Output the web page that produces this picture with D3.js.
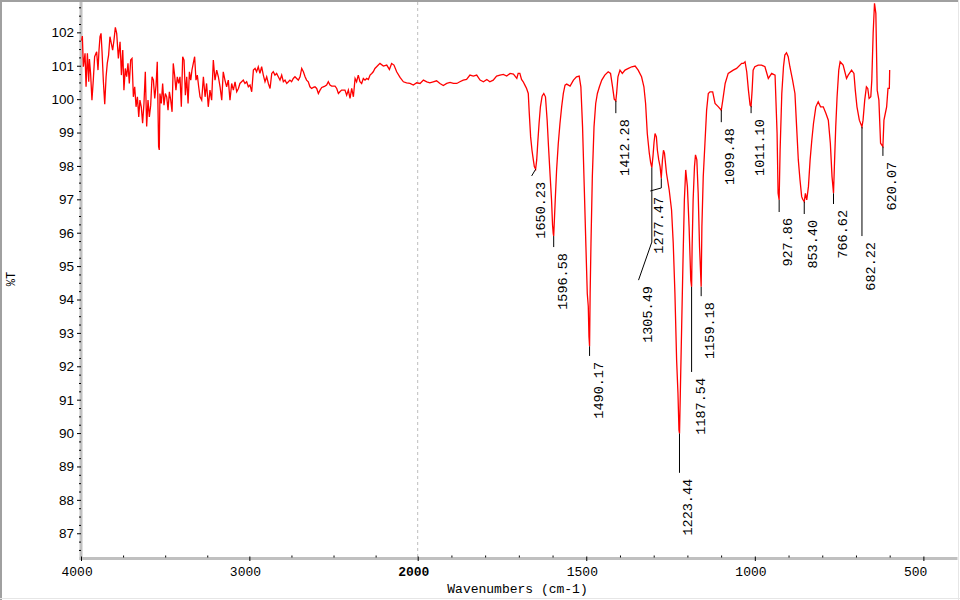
<!DOCTYPE html>
<html><head><meta charset="utf-8">
<script src="https://cdn.jsdelivr.net/npm/d3@7"></script>
<style>body{margin:0;background:#fff}svg{display:block}</style>
</head><body>
<svg id="chart" width="960" height="600"></svg>
<script>
// ---- data ----
const wavenumber = [
3996,3992,3986,3976,3970,3962,3954,3950,3943,3935,3927,3919,3907,3899,3893,3887,3881,3875,3867,3859,3851,3844,3836,3828,3820,3812,3804,3796,3788,3778,3768,3760,3752,3745,3737,3729,3721,3713,3705,3697,3689,3681,3673,3665,3657,3650,3642,3634,3626,3618,3610,3602,3594,3586,3578,3570,3562,3554,3547,3539,3535,3531,3523,3515,3507,3499,3491,3483,3475,3467,3459,3452,3444,3436,3428,3420,3412,3404,3396,3388,3380,3372,3364,3356,3348,3341,3333,3325,3317,3309,3301,3293,
3283,3273,3263,3254,3244,3234,3224,3214,3204,3194,3184,3174,3164,3155,3145,3135,3125,3115,3105,3095,3085,3075,3065,3056,3046,3036,3026,3016,3006,2996,2986,2976,2966,2957,2947,2937,2927,2917,2907,2897,2887,2877,2867,2858,2848,2838,2828,2818,2808,2798,2788,2778,2768,2759,2749,2739,2729,2719,2709,2699,2689,2679,2669,2660,2650,2640,2630,2620,2610,2600,2590,2580,2570,2561,2551,2541,2531,2521,2511,2501,2491,2481,2471,2462,2452,2442,2432,2422,2412,2402,2392,2382,2372,2363,2353,2343,2333,2323,2313,2303,2293,2283,2273,2264,2254,2244,2234,2224,
2204,2184,2168,2155,2141,2125,2105,2085,2066,2046,2026,2006,1993,1983,1973,1964,1954,1944,1934,1924,1914,1904,1894,1884,1875,1865,1855,1845,1835,1825,1815,1805,1795,1786,1776,1766,1756,1746,1736,1726,1716,1706,1702,1697,1692,1687,1682,1677,1672,
1669,1665,1661,1657,1654,1650.2,1647,1644,1640,1636,1631,1626,1621,1616,1612,1607,1603,1600,1598,1596.6,1595,1592,1588,1583,1578,1573,1568,1563,1558,1548,1538,1529,1521,1516,1511,1506,1501,1497,1494,1492,1490.2,1488.5,1486,1482,1477,1472,1467,1461,1454,1445,1435,1428,1422,1417,1412.3,1410,1406,1400,1393,1385,1375,1365,1355,1346,1336,1329,1324,1319,1313,1309,1305.5,1302,1299,1296,1292,1289,1285,1281,1277.5,1274,1271,1268,1262,1254,1247,1242,1237,1232,1228,1225,1223.4,1221,1217,1213,1209,1205,1200,1195,1190,1187.5,1186,1183,1179,1176,1172,1168,1164,1159.2,1157,1153,1148,1143,1138,1133,1125,1118,1108,1099.5,1095,1088,1079,1064,1054,1039,
1034,1029,1024,1019,1014,1011.1,1008,1005,1000,990,980,970,960,950,940,934,931,927.9,925,920,915,911,906,901,896,888,881,876,871,866,861,858,853.4,850,846,841,836,831,826,819,812,805,797,789,782,776,771,766.6,764,760,756,751,747,738,728,723,713,706,702,697,690,682.2,679,674,669,665,661,656,653,649,645,641,637,632,627,620.1,617,613,609,605,601,600
];
const transmittance = [
101.75,101.89,100.97,101.37,100.37,101.37,100.52,101.2,100.77,99.97,100.57,101.27,101.42,100.87,101.47,101.87,101.97,101.42,100.52,99.85,100.67,101.07,101.32,101.87,101.67,101.47,101.77,102.15,101.97,101.22,101.72,100.72,101.47,100.27,100.92,100.67,101.07,100.47,101.17,101.22,100.07,100.37,99.77,100.07,99.47,99.97,99.77,99.28,99.87,100.82,99.18,99.97,99.47,99.82,100.67,100.57,100.02,100.42,101.12,98.58,98.48,100.17,99.87,100.47,99.82,100.17,100.07,99.67,100.22,99.97,99.62,101.07,100.72,100.27,100.67,100.47,100.67,99.77,101.27,101.17,100.12,100.67,99.87,100.82,100.57,100.87,101.07,101.27,100.57,100.72,100.37,100.07,
99.97,100.67,100.07,100.47,99.77,100.27,99.97,101.17,100.57,100.87,100.67,100.37,99.97,100.82,100.57,100.37,100.57,99.97,100.47,100.27,100.52,100.22,100.32,100.47,100.52,100.57,100.47,100.52,100.37,100.42,100.22,100.87,100.92,100.82,100.97,100.77,100.97,100.72,100.52,100.67,100.47,100.32,100.77,100.82,100.72,100.77,100.67,100.57,100.72,100.52,100.57,100.47,100.52,100.57,100.52,100.62,100.67,100.62,100.57,100.67,100.92,100.82,100.67,100.57,100.52,100.37,100.32,100.35,100.37,100.32,100.17,100.27,100.35,100.37,100.39,100.42,100.52,100.42,100.39,100.39,100.39,100.32,100.17,100.22,100.27,100.27,100.27,100.12,100.27,100.02,100.32,100.07,100.62,100.52,100.72,100.52,100.47,100.62,100.57,100.62,100.59,100.72,100.77,100.82,100.92,100.97,101.02,101.07,
100.99,101.02,100.89,101.07,101.02,100.82,100.65,100.52,100.49,100.47,100.42,100.49,100.47,100.57,100.52,100.49,100.52,100.55,100.47,100.41,100.47,100.50,100.47,100.47,100.52,100.57,100.59,100.72,100.69,100.72,100.57,100.52,100.59,100.52,100.57,100.69,100.72,100.74,100.69,100.77,100.75,100.62,100.77,100.77,100.59,100.52,100.42,100.32,100.17,
99.57,98.87,98.47,98.18,97.98,97.9,98.18,98.67,99.27,99.77,100.09,100.17,100.07,99.37,98.58,97.68,96.98,96.23,95.98,95.9,96.28,96.98,97.88,98.67,99.27,99.77,100.17,100.42,100.45,100.39,100.57,100.67,100.69,100.37,99.17,97.38,95.58,94.18,93.79,92.89,92.6,94.18,95.68,97.68,99.17,99.87,100.17,100.37,100.57,100.72,100.82,100.77,100.37,100.0,99.95,100.17,100.67,100.87,100.77,100.87,100.92,100.97,100.99,100.87,100.67,100.37,99.87,98.97,98.38,98.1,97.95,98.3,98.7,98.97,98.87,98.47,98.18,97.98,97.63,98.18,98.47,98.38,97.78,97.28,96.68,95.68,94.18,92.19,91.19,90.09,89.99,91.19,93.19,95.18,96.98,97.88,97.38,96.18,94.58,94.38,95.58,96.98,97.98,98.33,98.18,97.18,95.58,94.38,96.18,97.68,98.67,99.67,100.17,100.22,100.22,99.87,99.77,99.67,99.97,100.47,100.77,100.87,100.92,101.07,
101.07,101.12,100.82,100.27,99.82,99.79,100.27,100.87,100.97,101.02,101.02,100.97,100.62,100.77,100.72,98.98,97.18,96.98,98.48,100.17,100.97,101.32,101.39,101.27,100.97,100.57,100.17,99.17,98.18,97.58,97.08,97.0,96.93,97.18,96.98,97.38,98.18,98.77,99.27,99.77,99.92,99.77,99.77,99.57,99.37,98.68,97.68,97.18,97.98,99.17,100.07,100.87,101.12,101.02,100.62,100.72,100.87,100.77,100.27,99.77,99.37,99.17,99.37,99.97,100.37,100.32,100.02,100.07,100.57,101.97,102.87,102.57,100.27,99.97,98.68,98.58,99.37,99.57,99.77,100.32,100.32,100.87
];
const xMajorTicks = [4000, 3000, 2000, 1500, 1000, 500];
const yMajorTicks = [87, 88, 89, 90, 91, 92, 93, 94, 95, 96, 97, 98, 99, 100, 101, 102];
const peakLabels = ["1650.23","1596.58","1490.17","1412.28","1305.49","1277.47","1223.44","1187.54","1159.18","1099.48","1011.10","927.86","853.40","766.62","682.22","620.07"];
const peakWavenumber = [1650.23,1596.58,1490.17,1412.28,1305.49,1277.47,1223.44,1187.54,1159.18,1099.48,1011.10,927.86,853.40,766.62,682.22,620.07];
const peakT = [97.9,95.9,92.6,99.95,97.95,97.63,89.99,94.38,94.38,99.67,99.79,96.98,96.93,97.18,99.17,98.58];
const leaderBendT = [null,null,null,null,95.72,97.34,null,null,null,null,null,null,null,null,null,null];
const leaderEndWavenumber = [1662,1596.58,1490.17,1412.28,1345,1310,1223.44,1187.54,1159.18,1099.48,1011.10,927.86,853.40,766.62,682.22,620.07];
const leaderEndT = [97.70,95.57,92.31,99.58,94.58,97.25,88.81,91.83,94.10,99.31,99.58,96.62,96.56,96.86,95.90,98.30];

// ---- drawing ----
const svg = d3.select("#chart");
svg.append("rect").attr("width", 960).attr("height", 600).attr("fill", "#fff");

const x = d3.scaleLinear().domain([4000, 2000, 400]).range([81, 417.7, 957.1]);
const y = d3.scaleLinear().domain([86.25, 102.9]).range([558.3, 2.3]);

// outer frame
svg.append("line").attr("x1", 0).attr("x2", 958).attr("y1", 1).attr("y2", 1).attr("stroke", "#a0a0a0").attr("stroke-width", 2);
svg.append("line").attr("x1", 1).attr("x2", 1).attr("y1", 0).attr("y2", 600).attr("stroke", "#a0a0a0").attr("stroke-width", 2);
svg.append("line").attr("x1", 958.5).attr("x2", 958.5).attr("y1", 0).attr("y2", 600).attr("stroke", "#e6e6e6").attr("stroke-width", 1);
svg.append("line").attr("x1", 0).attr("x2", 960).attr("y1", 598.5).attr("y2", 598.5).attr("stroke", "#e6e6e6").attr("stroke-width", 1);

// dashed line at scale change
svg.append("line").attr("x1", x(2000)).attr("x2", x(2000)).attr("y1", 2).attr("y2", 557)
  .attr("stroke", "#bdbdbd").attr("stroke-width", 1).attr("stroke-dasharray", "3,3");

// axis bands
svg.append("rect").attr("x", 79.5).attr("y", 2).attr("width", 3).attr("height", 558).attr("fill", "#c0c0c0");
svg.append("rect").attr("x", 79.5).attr("y", 557).attr("width", 878).attr("height", 3).attr("fill", "#c0c0c0");

// y axis
const yMinor = d3.range(86.5, 102.9, 0.25).filter(v => Math.abs(v - Math.round(v)) > 0.01);
const yAxisMinor = svg.append("g").attr("transform", "translate(81,0)")
  .call(d3.axisLeft(y).tickValues(yMinor).tickSize(2).tickFormat(""));
const yAxis = svg.append("g").attr("transform", "translate(81,0)")
  .call(d3.axisLeft(y).tickValues(yMajorTicks).tickSize(4).tickPadding(3).tickFormat(d3.format("d")));
[yAxisMinor, yAxis].forEach(g => {
  g.select(".domain").remove();
  g.selectAll(".tick line").attr("stroke", "#000");
});
yAxis.selectAll("text").attr("font-family", "'Liberation Sans', Arial, sans-serif").attr("font-size", "13.5px").attr("fill", "#000");

// x axis
const xMinor = d3.range(3750, 2000, -250).concat(d3.range(1900, 400, -100)).filter(v => xMajorTicks.indexOf(v) < 0);
const xAxisMinor = svg.append("g").attr("transform", "translate(0,555.5)")
  .call(d3.axisBottom(x).tickValues(xMinor).tickSize(2).tickFormat(""));
const xAxis = svg.append("g").attr("transform", "translate(0,556.5)")
  .call(d3.axisBottom(x).tickValues(xMajorTicks).tickSize(4.5).tickPadding(6).tickFormat(d3.format("d")));
[xAxisMinor, xAxis].forEach(g => {
  g.select(".domain").remove();
  g.selectAll(".tick line").attr("stroke", "#000");
});
xAxis.selectAll("text")
  .attr("font-family", "'Liberation Mono', 'DejaVu Sans Mono', monospace").attr("font-size", "13px").attr("fill", "#000")
  .attr("text-anchor", "start").attr("x", -20)
  .attr("font-weight", d => d === 2000 ? "bold" : "normal");

// axis titles
svg.append("text").attr("x", 517.5).attr("y", 593).attr("text-anchor", "middle")
  .attr("font-family", "'Liberation Mono', 'DejaVu Sans Mono', monospace").attr("font-size", "13px")
  .text("Wavenumbers (cm-1)");
svg.append("text").attr("transform", "translate(15,279) rotate(-90)").attr("text-anchor", "middle")
  .attr("font-family", "'Liberation Mono', 'DejaVu Sans Mono', monospace").attr("font-size", "12px")
  .text("%T");

// spectrum
const pts = wavenumber.map((w, i) => [w, transmittance[i]]);
svg.append("path").datum(pts)
  .attr("fill", "none").attr("stroke", "#ff0000").attr("stroke-width", 1.3).attr("stroke-linejoin", "miter")
  .attr("d", d3.line().x(d => x(d[0])).y(d => y(d[1])));

// peak labels
const lab = svg.append("g");
peakLabels.forEach((t, i) => {
  const px = x(peakWavenumber[i]), py = y(peakT[i]);
  const ex = x(leaderEndWavenumber[i]), ey = y(leaderEndT[i]);
  const p = d3.path();
  p.moveTo(px, py);
  if (leaderBendT[i] !== null) p.lineTo(px, y(leaderBendT[i]));
  p.lineTo(ex, ey);
  lab.append("path").attr("d", p.toString()).attr("fill", "none").attr("stroke", "#000").attr("stroke-width", 1);
  lab.append("text")
    .attr("transform", `translate(${ex + 9.5},${ey + 6}) rotate(-90)`)
    .attr("text-anchor", "end").attr("dominant-baseline", "central")
    .attr("font-family", "'Liberation Mono', 'DejaVu Sans Mono', monospace").attr("font-size", "13.5px")
    .attr("fill", "#000").text(t);
});
</script>
</body></html>
